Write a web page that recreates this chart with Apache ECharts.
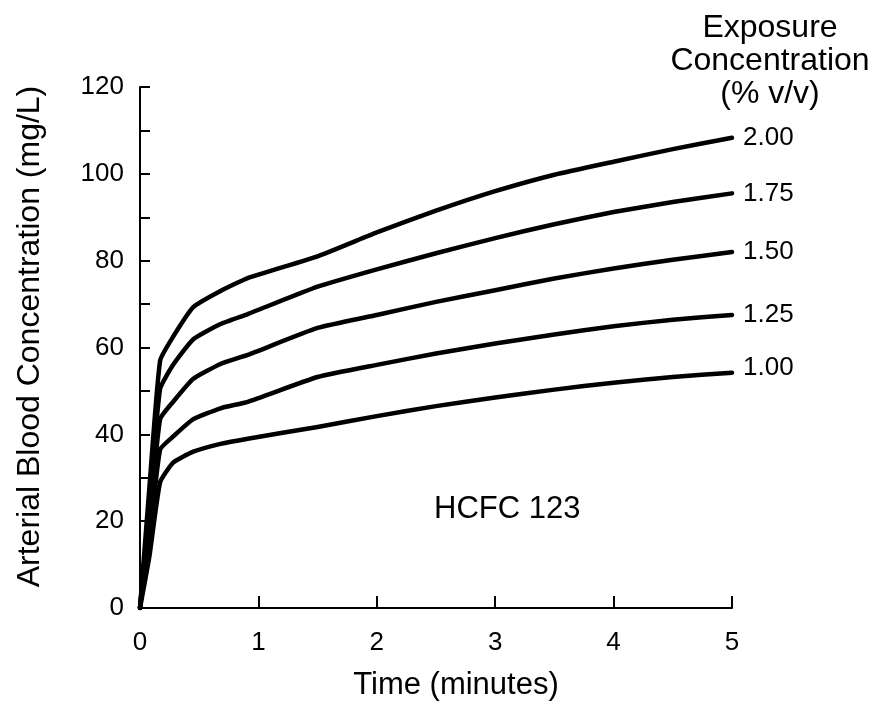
<!DOCTYPE html>
<html>
<head>
<meta charset="utf-8">
<script src="https://cdn.jsdelivr.net/npm/echarts@6/dist/echarts.min.js"></script>
<style>
html,body{margin:0;padding:0;background:#fff;}
#chart{width:873px;height:706px;}
</style>
</head>
<body>
<div id="chart"></div>
<script>
// Time points (minutes)
var times = [0, 0.08, 0.17, 0.28, 0.45, 0.68, 0.91, 1.5, 2.0, 2.5, 3.0, 3.5, 4.0, 4.5, 5.0];
// Arterial blood concentration (mg/L) per exposure concentration (% v/v)
var conc200 = [0, 28, 57, 62.5, 69.3, 73, 76, 81, 86.5, 91.5, 96, 99.8, 102.8, 105.7, 108.3];
var conc175 = [0, 24, 50.5, 56, 61.9, 65.4, 67.7, 74, 78, 81.7, 85.2, 88.4, 91.2, 93.5, 95.5];
var conc150 = [0, 20, 43.5, 47.5, 52.8, 56.2, 58.3, 64.5, 67.5, 70.5, 73.2, 75.9, 78.2, 80.2, 82];
var conc125 = [0, 16, 36.5, 39.5, 43.5, 46, 47.5, 53.2, 56, 58.6, 60.9, 63, 64.9, 66.4, 67.5];
var conc100 = [0, 12, 29, 33.5, 36, 37.8, 39, 41.7, 44.2, 46.5, 48.5, 50.3, 51.9, 53.2, 54.2];
var seriesNames = ['2.00', '1.75', '1.50', '1.25', '1.00'];
var seriesValues = [conc200, conc175, conc150, conc125, conc100];

var FONT = 'Liberation Sans, Arial, Helvetica, sans-serif';

function pairs(vals) {
  return times.map(function (t, i) { return [t, vals[i]]; });
}

var series = seriesNames.map(function (name, i) {
  return {
    name: name,
    type: 'line',
    data: pairs(seriesValues[i]),
    showSymbol: false,
    symbol: 'none',
    smooth: 0.15,
    lineStyle: { color: '#000', width: 4.5, cap: 'round', join: 'round' },
    endLabel: {
      show: true,
      formatter: '{a}',
      color: '#000',
      fontFamily: FONT,
      fontSize: 26,
      distance: 11,
      offset: i === 4 ? [0, -5] : [0, 0]
    },
    animation: false
  };
});

var chart = echarts.init(document.getElementById('chart'), null, { renderer: 'canvas' });
chart.setOption({
  backgroundColor: '#fff',
  animation: false,
  grid: { left: 140, right: 141, top: 87, bottom: 96, containLabel: false },
  xAxis: {
    type: 'value',
    min: 0, max: 5, interval: 1,
    name: 'Time (minutes)',
    nameLocation: 'middle',
    nameGap: 62,
    nameTextStyle: { color: '#000', fontFamily: FONT, fontSize: 31, padding: [0, 0, 0, 40] },
    axisLine: { show: true, lineStyle: { color: '#000', width: 2 } },
    axisTick: { show: true, inside: true, length: 12, lineStyle: { color: '#000', width: 2 } },
    axisLabel: { color: '#000', fontFamily: FONT, fontSize: 26, margin: 22 },
    splitLine: { show: false }
  },
  yAxis: {
    type: 'value',
    min: 0, max: 120, interval: 20,
    name: 'Arterial Blood Concentration (mg/L)',
    nameLocation: 'middle',
    nameGap: 94,
    nameRotate: 90,
    nameTextStyle: { color: '#000', fontFamily: FONT, fontSize: 32, padding: [0, 0, 0, 22] },
    axisLine: { show: true, lineStyle: { color: '#000', width: 2 } },
    axisTick: { show: true, inside: true, length: 10, lineStyle: { color: '#000', width: 2 } },
    minorTick: { show: true, splitNumber: 2, length: 10, lineStyle: { color: '#000', width: 2 } },
    axisLabel: { color: '#000', fontFamily: FONT, fontSize: 26, margin: 16 },
    splitLine: { show: false },
    minorSplitLine: { show: false }
  },
  graphic: [
    {
      type: 'text',
      x: 770, y: 12,
      style: {
        text: 'Exposure\nConcentration\n(% v/v)',
        fill: '#000',
        font: '32px ' + FONT,
        lineHeight: 33,
        align: 'center',
        textAlign: 'center',
        verticalAlign: 'top',
        textVerticalAlign: 'top'
      }
    },
    {
      type: 'text',
      x: 434, y: 509,
      style: {
        text: 'HCFC 123',
        fill: '#000',
        font: '31px ' + FONT,
        align: 'left',
        textAlign: 'left',
        verticalAlign: 'middle',
        textVerticalAlign: 'middle'
      }
    }
  ],
  series: series
});
</script>
</body>
</html>
